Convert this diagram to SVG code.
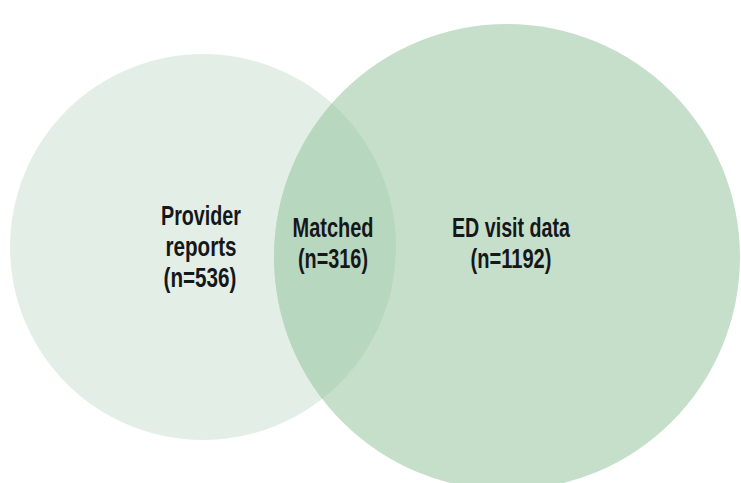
<svg xmlns="http://www.w3.org/2000/svg" width="741" height="483" viewBox="0 0 741 483">
<style>
.lbl{font-family:"Liberation Sans","DejaVu Sans",sans-serif;font-weight:bold;font-size:27px;fill:#15171a;text-anchor:middle}
</style>
<defs>
<clipPath id="cl"><circle cx="203" cy="247" r="193"/></clipPath>
</defs>
<rect width="741" height="483" fill="#ffffff"/>
<g id="provider">
<circle cx="203" cy="247" r="193" fill="#e3efe6"/>
</g>
<g id="ed">
<circle cx="507" cy="257" r="233" fill="#c6dfca"/>
</g>
<g id="intersection">
<circle cx="507" cy="257" r="233" fill="#b8d7bf" clip-path="url(#cl)"/>
</g>
<g id="labels">
<text class="lbl" x="201" y="225" textLength="80" lengthAdjust="spacingAndGlyphs">Provider</text>
<text class="lbl" x="201" y="256" textLength="71" lengthAdjust="spacingAndGlyphs">reports</text>
<text class="lbl" x="200" y="287" textLength="73" lengthAdjust="spacingAndGlyphs">(n=536)</text>
<text class="lbl" x="333" y="237" textLength="81" lengthAdjust="spacingAndGlyphs">Matched</text>
<text class="lbl" x="333" y="268" textLength="70" lengthAdjust="spacingAndGlyphs">(n=316)</text>
<text class="lbl" x="511" y="237" textLength="118" lengthAdjust="spacingAndGlyphs">ED visit data</text>
<text class="lbl" x="511" y="268" textLength="81" lengthAdjust="spacingAndGlyphs">(n=1192)</text>
</g>
</svg>
